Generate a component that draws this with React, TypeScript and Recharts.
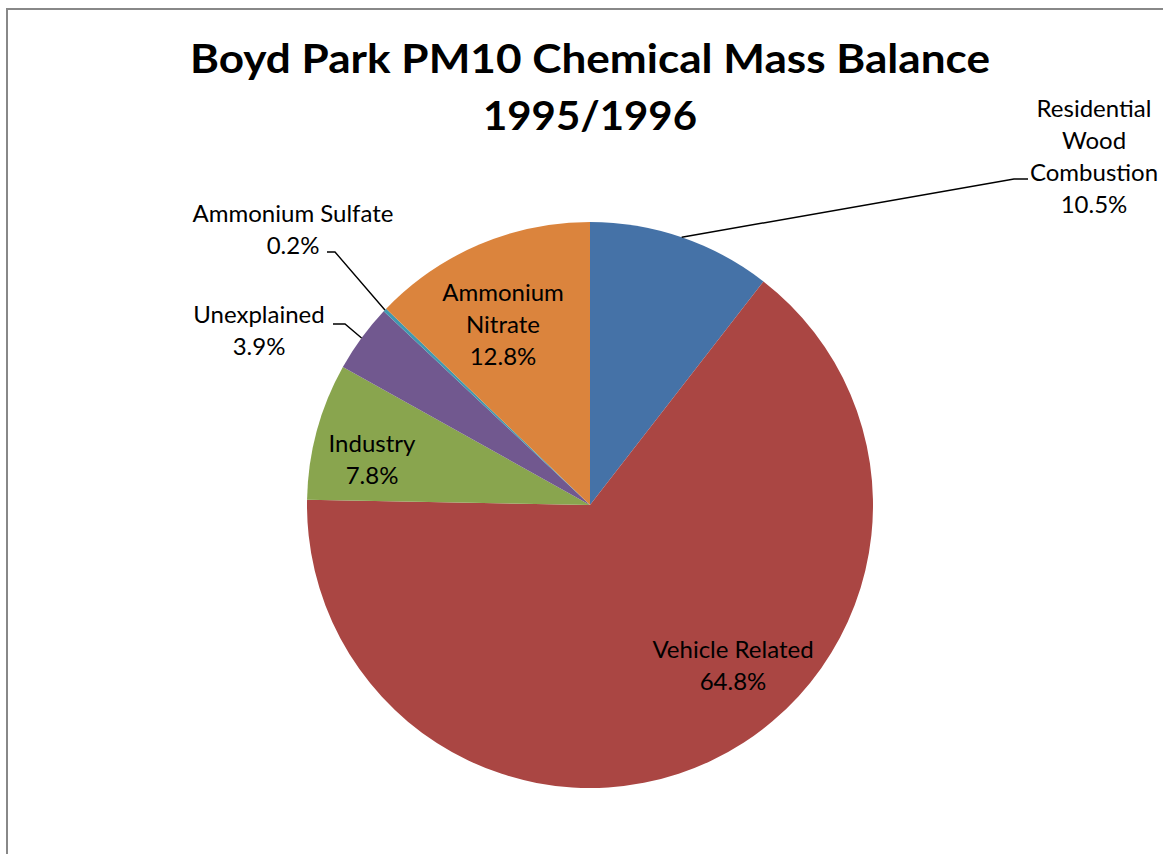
import React from 'react';
import { PieChart, Pie, Cell } from 'recharts';

// PM10 source apportionment, Boyd Park 1995/1996 (percent of mass)
const categories = [
  'Residential Wood Combustion',
  'Vehicle Related',
  'Industry',
  'Unexplained',
  'Ammonium Sulfate',
  'Ammonium Nitrate',
];
const shares = [10.5, 64.8, 7.8, 3.9, 0.2, 12.8];
const titleLines = ['Boyd Park PM10 Chemical Mass Balance', '1995/1996'];

const COLORS = ['#4572A7', '#AA4643', '#89A54E', '#71588F', '#4198AF', '#DB843D'];

const data = categories.map((name, i) => ({ name, value: shares[i] }));

const W = 1163;
const H = 854;
const CX = 590;
const CY = 505;
const R = 283;
const RAD = Math.PI / 180;
const LINE_H = 32;
const FONT = 'Lato, "Open Sans", sans-serif';

// Label placement relative to the pie centre; text centre x, first baseline y,
// and optional elbow / end of a leader line drawn from the slice edge.
type LabelLayout = {
  lines: string[];
  tx: number;
  ty: number;
  elbow?: [number, number];
  end?: [number, number];
};

const layout: Record<string, LabelLayout> = {
  'Residential Wood Combustion': {
    lines: ['Residential', 'Wood', 'Combustion'],
    tx: 504,
    ty: -388,
    elbow: [424, -326],
    end: [438, -326],
  },
  'Vehicle Related': { lines: ['Vehicle Related'], tx: 143, ty: 153 },
  Industry: { lines: ['Industry'], tx: -218, ty: -53 },
  Unexplained: {
    lines: ['Unexplained'],
    tx: -331,
    ty: -182,
    elbow: [-245, -181],
    end: [-257, -181],
  },
  'Ammonium Sulfate': {
    lines: ['Ammonium Sulfate'],
    tx: -297,
    ty: -283,
    elbow: [-255, -253],
    end: [-263, -253],
  },
  'Ammonium Nitrate': { lines: ['Ammonium', 'Nitrate'], tx: -87, ty: -204 },
};

const renderLabel = (props: any) => {
  const { cx, cy, midAngle, outerRadius, index } = props;
  const name = categories[index];
  const value = shares[index];
  const cfg = layout[name];
  const lines = [...cfg.lines, `${value.toFixed(1)}%`];
  const x = cx + cfg.tx;
  const y0 = cy + cfg.ty;
  let leader = null;
  if (cfg.elbow && cfg.end) {
    const sx = cx + outerRadius * Math.cos(-midAngle * RAD);
    const sy = cy + outerRadius * Math.sin(-midAngle * RAD);
    const pts = `${sx},${sy} ${cx + cfg.elbow[0]},${cy + cfg.elbow[1]} ${cx + cfg.end[0]},${cy + cfg.end[1]}`;
    leader = <polyline points={pts} fill="none" stroke="#000" strokeWidth={1.4} />;
  }
  return (
    <g key={`lbl-${index}`}>
      {leader}
      {lines.map((t, i) => (
        <text
          key={i}
          x={x}
          y={y0 + i * LINE_H}
          textAnchor="middle"
          fontFamily={FONT}
          fontSize={24}
          fill="#000"
        >
          {t}
        </text>
      ))}
    </g>
  );
};

export default function App() {
  return (
    <div
      style={{
        position: 'absolute',
        left: 0,
        top: 0,
        width: W,
        height: H,
        background: '#fff',
        overflow: 'hidden',
      }}
    >
      <svg
        width={W}
        height={H}
        style={{ position: 'absolute', left: 0, top: 0 }}
      >
        <rect x={7} y={9} width={1300} height={1000} fill="#fff" stroke="#888" strokeWidth={2} />
        <text
          x={CX}
          y={73}
          textAnchor="middle"
          fontFamily={FONT}
          fontWeight={700}
          fontSize={40}
          textLength={800}
          lengthAdjust="spacingAndGlyphs"
          fill="#000"
        >
          {titleLines[0]}
        </text>
        <text
          x={CX}
          y={130}
          textAnchor="middle"
          fontFamily={FONT}
          fontWeight={700}
          fontSize={40}
          textLength={214}
          lengthAdjust="spacingAndGlyphs"
          fill="#000"
        >
          {titleLines[1]}
        </text>
      </svg>
      <div style={{ position: 'absolute', left: 0, top: 0 }}>
        <PieChart width={W} height={H} margin={{ top: 0, right: 0, bottom: 0, left: 0 }}>
          <Pie
            data={data}
            dataKey="value"
            nameKey="name"
            cx={CX}
            cy={CY}
            outerRadius={R}
            startAngle={90}
            endAngle={-270}
            stroke="none"
            isAnimationActive={false}
            label={renderLabel}
            labelLine={false}
          >
            {data.map((d, i) => (
              <Cell key={d.name} fill={COLORS[i]} />
            ))}
          </Pie>
        </PieChart>
      </div>
    </div>
  );
}
